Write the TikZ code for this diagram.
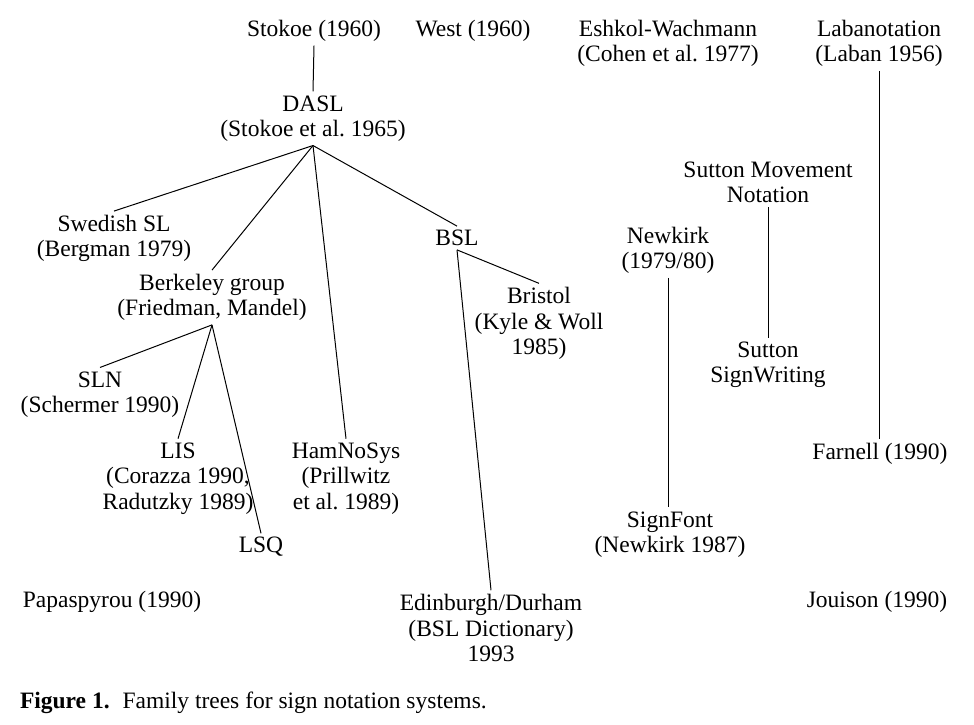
\documentclass[tikz,border=0pt]{standalone}
\usepackage{fontspec}
\setmainfont{Liberation Serif}
\frenchspacing
\begin{document}
\begin{tikzpicture}[x=1pt,y=-1pt,
  lbl/.style={align=center,inner sep=1pt,outer sep=3pt,font=\fontsize{23.5}{25.5}\selectfont},
  conn/.style={line width=1pt,black}]
\useasboundingbox (0,0) rectangle (974,725);
% top row
\node[lbl] (stokoe) at (314,31) {Stokoe (1960)};
\node[lbl] (west) at (473,31) {West (1960)};
\node[lbl] (eshkol) at (668,43.5) {Eshkol-Wachmann\\(Cohen et al. 1977)};
\node[lbl] (laban) at (879,43.5) {Labanotation\\(Laban 1956)};
% DASL tree
\node[lbl] (dasl) at (313,118.5) {DASL\\(Stokoe et al. 1965)};
\node[lbl] (swe) at (114,238.5) {Swedish SL\\(Bergman 1979)};
\node[lbl] (berk) at (212,297.5) {Berkeley group\\(Friedman, Mandel)};
\node[lbl] (sln) at (100,394.5) {SLN\\(Schermer 1990)};
\node[lbl] (lis) at (178,478.5) {LIS\\(Corazza 1990,\\Radutzky 1989)};
\node[lbl] (lsq) at (261,547) {LSQ};
\node[lbl] (ham) at (346,478.5) {HamNoSys\\(Prillwitz\\et al. 1989)};
\node[lbl] (pap) at (112,602) {Papaspyrou (1990)};
\node[lbl] (bsl) at (457,238) {BSL};
\node[lbl] (bris) at (539,323.5) {Bristol\\(Kyle \& Woll\\1985)};
\node[lbl] (edin) at (491,628) {Edinburgh/Durham\\(BSL Dictionary)\\1993};
% right trees
\node[lbl] (newk) at (668,250.5) {Newkirk\\(1979/80)};
\node[lbl] (signf) at (670,534.5) {SignFont\\(Newkirk 1987)};
\node[lbl] (sutm) at (768,182.5) {Sutton Movement\\Notation};
\node[lbl] (sutw) at (768,365) {Sutton\\SignWriting};
\node[lbl] (farn) at (880,454) {Farnell (1990)};
\node[lbl] (jou) at (877,602) {Jouison (1990)};
% caption
\node[lbl,anchor=west,inner sep=0pt,outer sep=0pt] (cap) at (20,703) {\textbf{Figure 1.}\hspace{0.55em}Family trees for sign notation systems.};
% connectors
\draw[conn] (stokoe.south) -- (dasl.north);
\draw[conn] (dasl.south) -- (swe.north);
\draw[conn] (dasl.south) -- (berk.north);
\draw[conn] (dasl.south) -- (ham.north);
\draw[conn] (dasl.south) -- (bsl.north);
\draw[conn] (berk.south) -- (sln.north);
\draw[conn] (berk.south) -- (lis.north);
\draw[conn] (berk.south) -- (lsq.north);
\draw[conn] (bsl.south) -- (bris.north);
\draw[conn] (bsl.south) -- (edin.north);
\draw[conn] (newk.south) -- (newk.south |- signf.north);
\draw[conn] (sutm.south) -- (sutm.south |- sutw.north);
\draw[conn] (laban.south) -- (laban.south |- farn.north);
\end{tikzpicture}
\end{document}
